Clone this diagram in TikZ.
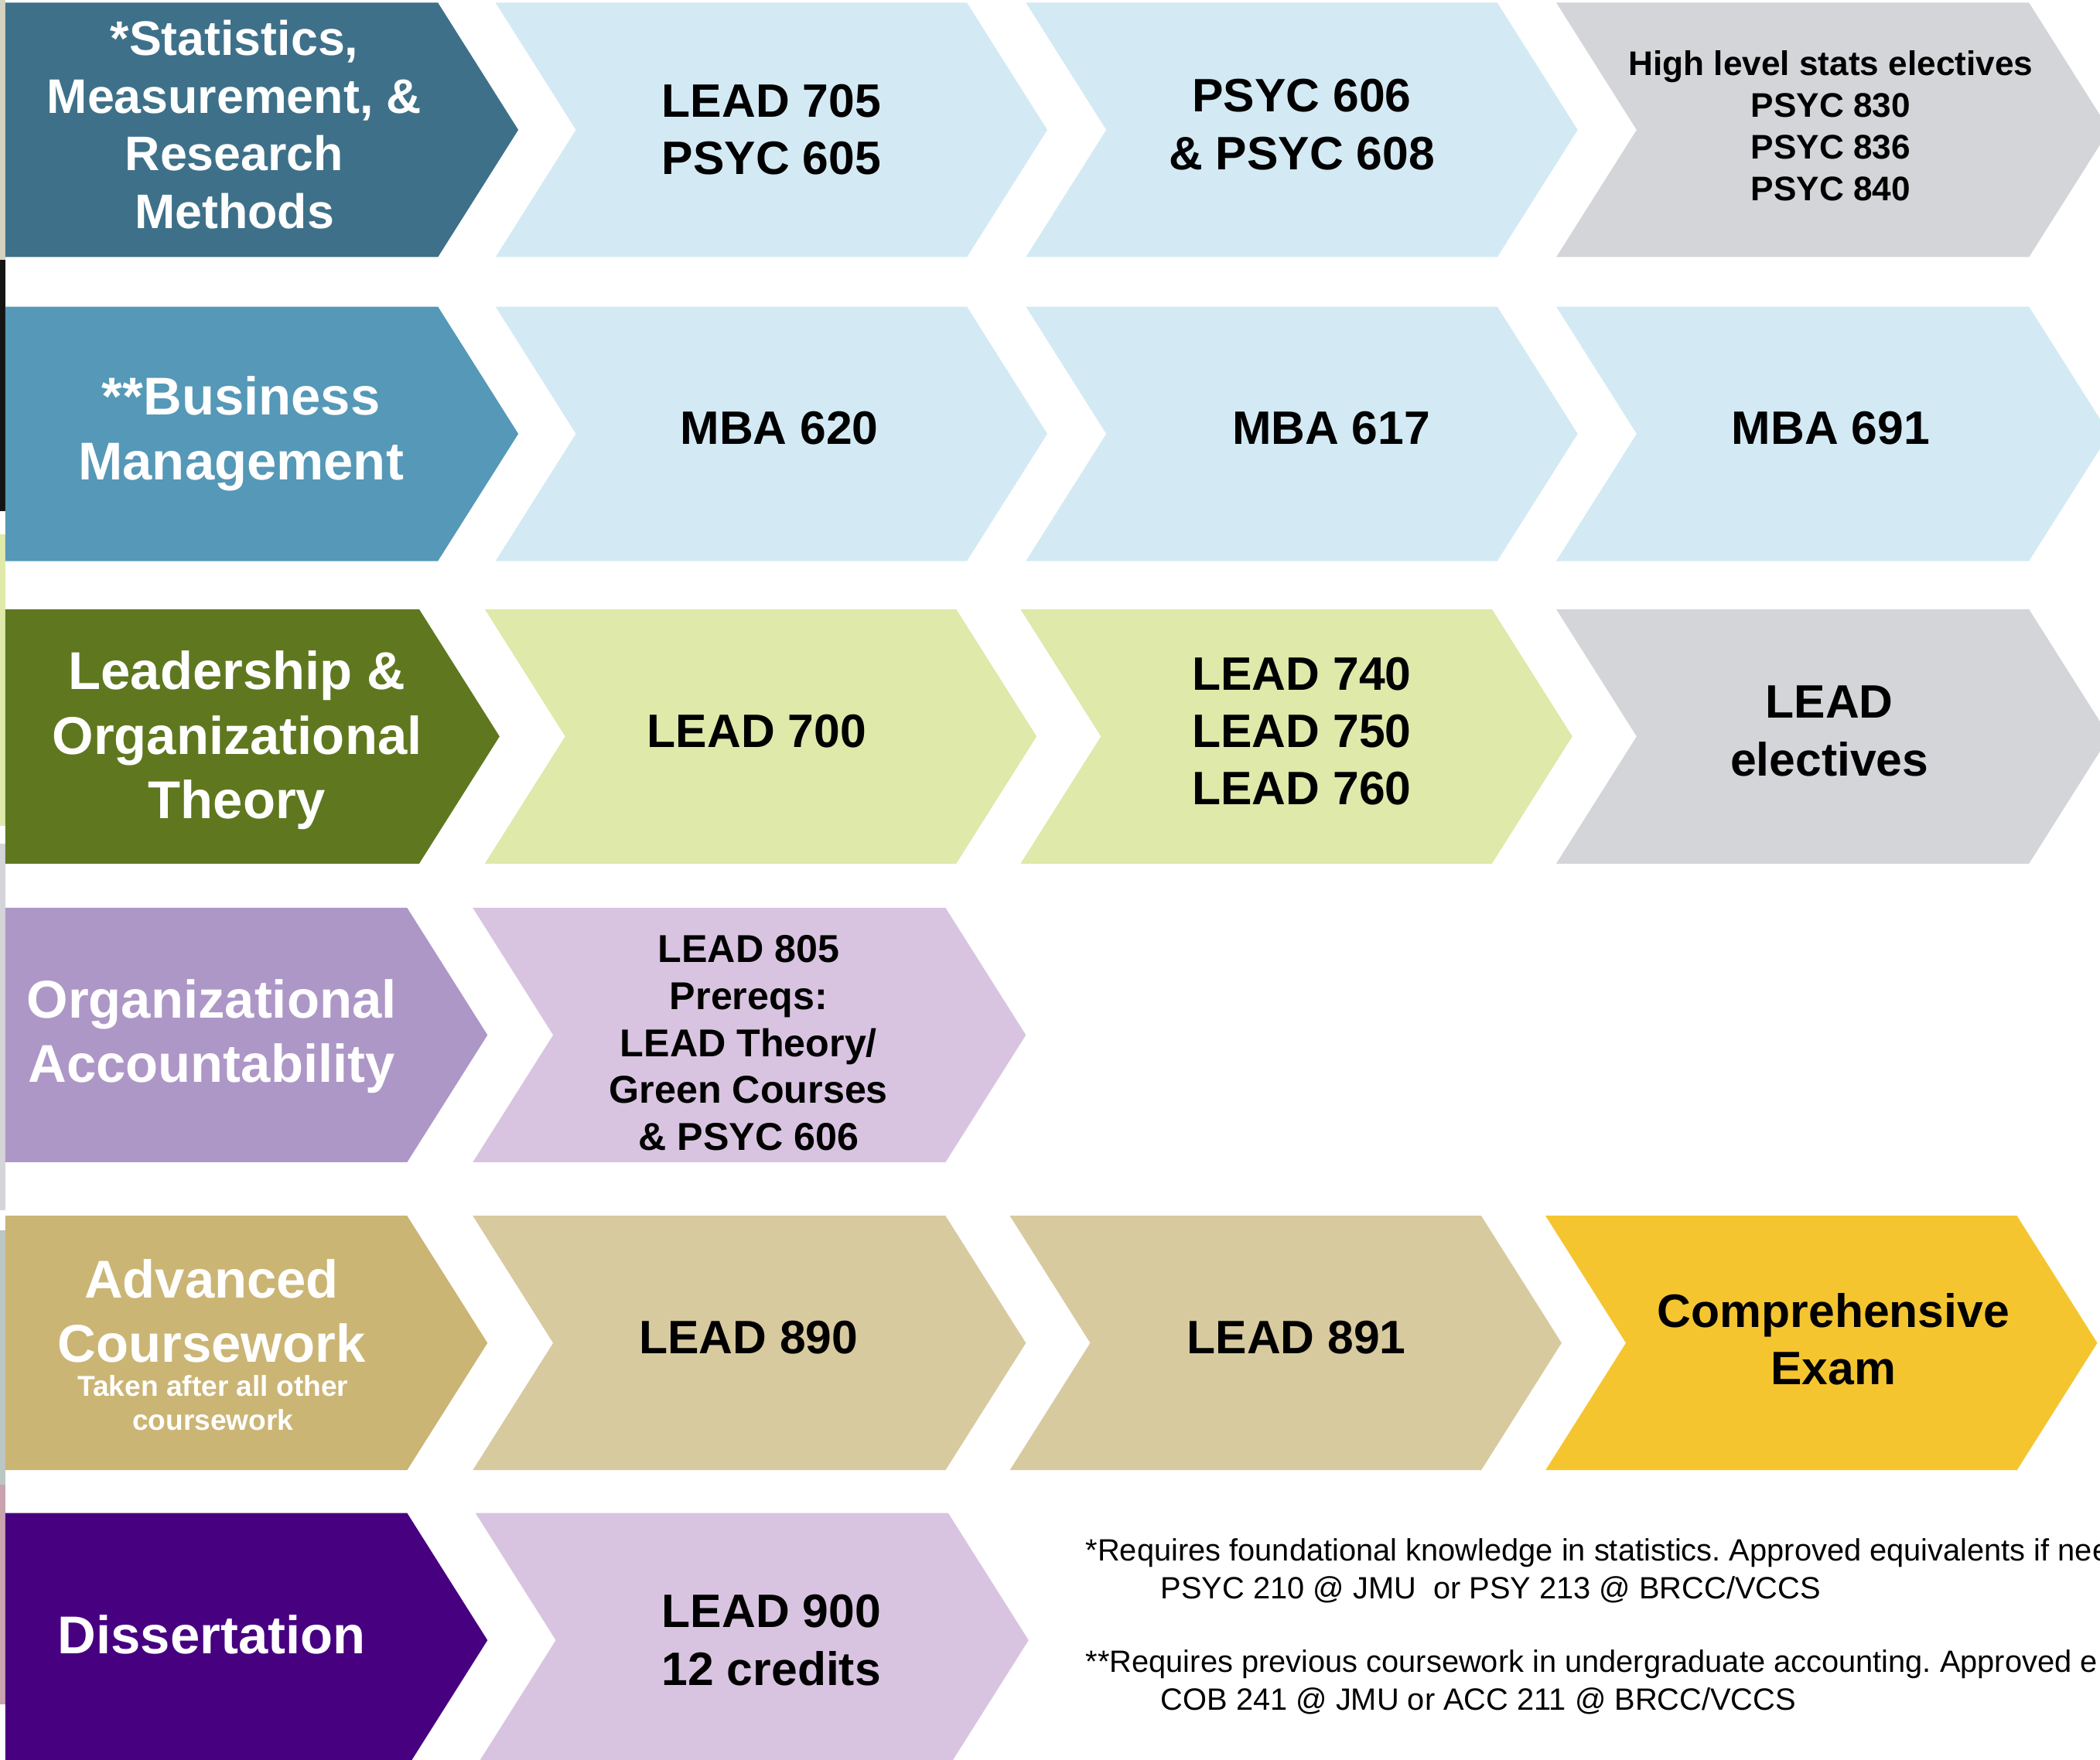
\documentclass[tikz,border=0pt]{standalone}
\usepackage{fontspec}
\setmainfont{Liberation Sans}
\usepackage{tikz}
\usetikzlibrary{positioning}
\frenchspacing

\definecolor{statsteal}{HTML}{3E7189}
\definecolor{busblue}{HTML}{5598B7}
\definecolor{leadgreen}{HTML}{5F781F}
\definecolor{acclilac}{HTML}{AD97C7}
\definecolor{advgold}{HTML}{CBB575}
\definecolor{disspurple}{HTML}{470080}
\definecolor{paleblue}{HTML}{D3EAF4}
\definecolor{palegray}{HTML}{D4D5D8}
\definecolor{palegreen}{HTML}{DEE9AA}
\definecolor{palelilac}{HTML}{D8C4E0}
\definecolor{palegold}{HTML}{D8CA9F}
\definecolor{examyellow}{HTML}{F5C530}
\definecolor{stripbeige}{HTML}{D5D3C0}
\definecolor{stripteal}{HTML}{BAC7C5}
\definecolor{strippink}{HTML}{C9A3AE}

\tikzset{
  head/.style={text=white, align=center, inner sep=0pt,
    font=\bfseries\fontsize{11.3}{13.7}\selectfont},
  course/.style={align=center, inner sep=0pt,
    font=\bfseries\fontsize{9.96}{12.2}\selectfont},
  smallcourse/.style={align=center, inner sep=0pt,
    font=\bfseries\fontsize{7.25}{8.85}\selectfont},
  prereq/.style={align=center, inner sep=0pt,
    font=\bfseries\fontsize{8.25}{9.96}\selectfont},
  footnote/.style={anchor=base west, inner sep=0pt,
    font=\fontsize{6.54}{7.8}\selectfont},
}

\begin{document}
\begin{tikzpicture}[x=0.01cm, y=-0.01cm]
  \useasboundingbox (0,0) rectangle (1568,1314);
  % strip left over at the left edge
  \fill[stripbeige] (0,0) rectangle (4,194);
  \fill[black!92] (0,194) rectangle (4,382);
  \fill[palegreen] (0,399) rectangle (4,617);
  \fill[palegray] (0,630) rectangle (4,904);
  \fill[stripteal] (0,919) rectangle (4,1109);
  \fill[strippink] (0,1109) rectangle (4,1273);

  % row 1: statistics
  \fill[statsteal] (4,2) -- (327,2) -- (387,97) -- (327,192) -- (4,192) -- cycle;
  \fill[paleblue] (370,2) -- ++(352,0) -- ++(60,95) -- ++(-60,95) -- ++(-352,0) -- ++(60,-95) -- cycle;
  \fill[paleblue] (766,2) -- ++(352,0) -- ++(60,95) -- ++(-60,95) -- ++(-352,0) -- ++(60,-95) -- cycle;
  \fill[palegray] (1162,2) -- ++(353,0) -- ++(60,95) -- ++(-60,95) -- ++(-353,0) -- ++(60,-95) -- cycle;
  \node[head, font=\bfseries\fontsize{10.3}{12.3}\selectfont] (stats) at (175,93)
    {*Statistics,\\Measurement, \&\\Research\\Methods};
  \node[course] (lead705) at (576,97) {LEAD 705\\PSYC 605};
  \node[course] (psyc606) at (972,93) {PSYC 606\\\& PSYC 608};
  \node[smallcourse] (statselect) at (1367,94)
    {High level stats electives\\PSYC 830\\PSYC 836\\PSYC 840};

  % row 2: business
  \fill[busblue] (4,229) -- (327,229) -- (387,324) -- (327,419) -- (4,419) -- cycle;
  \fill[paleblue] (370,229) -- ++(352,0) -- ++(60,95) -- ++(-60,95) -- ++(-352,0) -- ++(60,-95) -- cycle;
  \fill[paleblue] (766,229) -- ++(352,0) -- ++(60,95) -- ++(-60,95) -- ++(-352,0) -- ++(60,-95) -- cycle;
  \fill[paleblue] (1162,229) -- ++(353,0) -- ++(60,95) -- ++(-60,95) -- ++(-353,0) -- ++(60,-95) -- cycle;
  \node[head] (business) at (180,324) {**Business\\Management};
  \node[course] (mba620) at (582,320) {MBA 620};
  \node[course] (mba617) at (994,320) {MBA 617};
  \node[course] (mba691) at (1367,320) {MBA 691};

  % row 3: leadership
  \fill[leadgreen] (4,455) -- (313,455) -- (373,550) -- (313,645) -- (4,645) -- cycle;
  \fill[palegreen] (362,455) -- ++(352,0) -- ++(60,95) -- ++(-60,95) -- ++(-352,0) -- ++(60,-95) -- cycle;
  \fill[palegreen] (762,455) -- ++(352,0) -- ++(60,95) -- ++(-60,95) -- ++(-352,0) -- ++(60,-95) -- cycle;
  \fill[palegray] (1162,455) -- ++(353,0) -- ++(60,95) -- ++(-60,95) -- ++(-353,0) -- ++(60,-95) -- cycle;
  \node[head] (leadership) at (177,553) {Leadership \&\\Organizational\\Theory};
  \node[course] (lead700) at (565,546) {LEAD 700};
  \node[course] (lead740) at (972,546) {LEAD 740\\LEAD 750\\LEAD 760};
  \node[course] (leadelect) at (1366,546) {LEAD\\electives};

  % row 4: accountability
  \fill[acclilac] (4,678) -- (304,678) -- (364,773) -- (304,868) -- (4,868) -- cycle;
  \fill[palelilac] (353,678) -- ++(353,0) -- ++(60,95) -- ++(-60,95) -- ++(-353,0) -- ++(60,-95) -- cycle;
  \node[head] (account) at (158,774) {Organizational\\Accountability};
  \node[prereq] (lead805) at (559,779)
    {LEAD 805\\Prereqs:\\LEAD Theory/\\Green Courses\\\& PSYC 606};

  % row 5: advanced coursework
  \fill[advgold] (4,908) -- (304,908) -- (364,1003) -- (304,1098) -- (4,1098) -- cycle;
  \fill[palegold] (353,908) -- ++(353,0) -- ++(60,95) -- ++(-60,95) -- ++(-353,0) -- ++(60,-95) -- cycle;
  \fill[palegold] (754,908) -- ++(352,0) -- ++(60,95) -- ++(-60,95) -- ++(-352,0) -- ++(60,-95) -- cycle;
  \fill[examyellow] (1154,908) -- ++(352,0) -- ++(60,95) -- ++(-60,95) -- ++(-352,0) -- ++(60,-95) -- cycle;
  \node[head] (advanced) at (158,979) {Advanced\\Coursework};
  \node[head, font=\bfseries\fontsize{6.1}{7.2}\selectfont] (advnote) at (159,1048)
    {Taken after all other\\coursework};
  \node[course] (lead890) at (559,999) {LEAD 890};
  \node[course] (lead891) at (968,999) {LEAD 891};
  \node[course] (exam) at (1369,1000) {Comprehensive\\Exam};

  % row 6: dissertation
  \fill[disspurple] (4,1130) -- (304,1130) -- (364,1225) -- (304,1320) -- (4,1320) -- cycle;
  \fill[palelilac] (355,1130) -- ++(353,0) -- ++(60,95) -- ++(-60,95) -- ++(-353,0) -- ++(60,-95) -- cycle;
  \node[head] (diss) at (158,1221) {Dissertation};
  \node[course] (lead900) at (576,1225) {LEAD 900\\12 credits};

  % footnotes
  \node[footnote] (statsnote) at (810,1166)
    {*Requires foundational knowledge in statistics. Approved equivalents if nee};
  \node[footnote] (statsequiv) at (866,1194) {PSYC 210 @ JMU\ \ or PSY 213 @ BRCC/VCCS};
  \node[footnote] (busnote) at (810,1249)
    {**Requires previous coursework in undergraduate accounting. Approved e};
  \node[footnote] (busequiv) at (866,1277) {COB 241 @ JMU or ACC 211 @ BRCC/VCCS};
\end{tikzpicture}
\end{document}
